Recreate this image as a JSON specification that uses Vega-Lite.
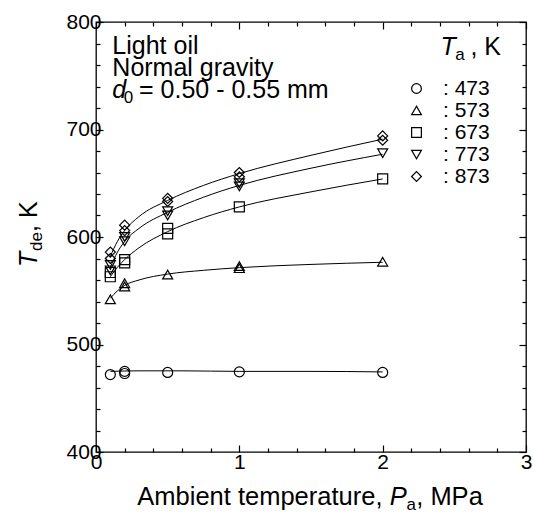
{
  "$schema": "https://vega.github.io/schema/vega-lite/v6.json",
  "width": 430,
  "height": 430,
  "autosize": {"type": "none"},
  "padding": {"left": 96, "top": 22, "right": 8, "bottom": 61},
  "background": "white",
  "config": {
    "view": {"stroke": "black", "strokeWidth": 1.3},
    "font": "Liberation Sans",
    "axis": {"grid": false, "domain": false, "tickColor": "black", "tickWidth": 1.2, "labelColor": "black", "labelFont": "Liberation Sans", "labelFontSize": 21, "title": null}
  },
  "data": {"values": [{}]},
  "datasets": {
    "points": [
      {"P": 0.1, "T": 472, "Ta": "473"}, {"P": 0.2, "T": 473, "Ta": "473"}, {"P": 0.2, "T": 475, "Ta": "473"}, {"P": 0.5, "T": 474, "Ta": "473"}, {"P": 1.0, "T": 474.5, "Ta": "473"}, {"P": 2.0, "T": 474, "Ta": "473"},
      {"P": 0.1, "T": 542, "Ta": "573"}, {"P": 0.2, "T": 554, "Ta": "573"}, {"P": 0.2, "T": 557, "Ta": "573"}, {"P": 0.5, "T": 565, "Ta": "573"}, {"P": 1.0, "T": 571, "Ta": "573"}, {"P": 1.0, "T": 573, "Ta": "573"}, {"P": 2.0, "T": 577, "Ta": "573"},
      {"P": 0.1, "T": 563, "Ta": "673"}, {"P": 0.1, "T": 567, "Ta": "673"}, {"P": 0.2, "T": 576, "Ta": "673"}, {"P": 0.2, "T": 579, "Ta": "673"}, {"P": 0.5, "T": 603, "Ta": "673"}, {"P": 0.5, "T": 608, "Ta": "673"}, {"P": 1.0, "T": 628, "Ta": "673"}, {"P": 2.0, "T": 654, "Ta": "673"},
      {"P": 0.1, "T": 569, "Ta": "773"}, {"P": 0.1, "T": 574, "Ta": "773"}, {"P": 0.2, "T": 596, "Ta": "773"}, {"P": 0.2, "T": 600, "Ta": "773"}, {"P": 0.5, "T": 620, "Ta": "773"}, {"P": 0.5, "T": 624, "Ta": "773"}, {"P": 1.0, "T": 647, "Ta": "773"}, {"P": 1.0, "T": 650, "Ta": "773"}, {"P": 2.0, "T": 678, "Ta": "773"},
      {"P": 0.1, "T": 580, "Ta": "873"}, {"P": 0.1, "T": 586, "Ta": "873"}, {"P": 0.2, "T": 606, "Ta": "873"}, {"P": 0.2, "T": 611, "Ta": "873"}, {"P": 0.5, "T": 633, "Ta": "873"}, {"P": 0.5, "T": 636, "Ta": "873"}, {"P": 1.0, "T": 656, "Ta": "873"}, {"P": 1.0, "T": 660, "Ta": "873"}, {"P": 2.0, "T": 690, "Ta": "873"}, {"P": 2.0, "T": 694, "Ta": "873"}
    ],
    "curves": [
      {"P": 0.1, "T": 475, "Ta": "473"}, {"P": 0.3, "T": 475.5, "Ta": "473"}, {"P": 0.6, "T": 475.5, "Ta": "473"}, {"P": 1.0, "T": 475, "Ta": "473"}, {"P": 1.5, "T": 475, "Ta": "473"}, {"P": 2.0, "T": 474.5, "Ta": "473"},
      {"P": 0.1, "T": 543, "Ta": "573"}, {"P": 0.15, "T": 550, "Ta": "573"}, {"P": 0.2, "T": 555, "Ta": "573"}, {"P": 0.3, "T": 560, "Ta": "573"}, {"P": 0.5, "T": 565.5, "Ta": "573"}, {"P": 0.75, "T": 569, "Ta": "573"}, {"P": 1.0, "T": 571.5, "Ta": "573"}, {"P": 1.5, "T": 574.5, "Ta": "573"}, {"P": 2.0, "T": 576.5, "Ta": "573"},
      {"P": 0.1, "T": 563, "Ta": "673"}, {"P": 0.15, "T": 572, "Ta": "673"}, {"P": 0.2, "T": 579, "Ta": "673"}, {"P": 0.3, "T": 590, "Ta": "673"}, {"P": 0.5, "T": 605, "Ta": "673"}, {"P": 0.75, "T": 618, "Ta": "673"}, {"P": 1.0, "T": 628, "Ta": "673"}, {"P": 1.5, "T": 642, "Ta": "673"}, {"P": 2.0, "T": 654, "Ta": "673"},
      {"P": 0.1, "T": 572, "Ta": "773"}, {"P": 0.15, "T": 586, "Ta": "773"}, {"P": 0.2, "T": 596, "Ta": "773"}, {"P": 0.3, "T": 608, "Ta": "773"}, {"P": 0.5, "T": 623, "Ta": "773"}, {"P": 0.75, "T": 637, "Ta": "773"}, {"P": 1.0, "T": 648, "Ta": "773"}, {"P": 1.5, "T": 664, "Ta": "773"}, {"P": 2.0, "T": 677, "Ta": "773"},
      {"P": 0.1, "T": 582, "Ta": "873"}, {"P": 0.15, "T": 596, "Ta": "873"}, {"P": 0.2, "T": 606, "Ta": "873"}, {"P": 0.3, "T": 619, "Ta": "873"}, {"P": 0.5, "T": 634, "Ta": "873"}, {"P": 0.75, "T": 648, "Ta": "873"}, {"P": 1.0, "T": 659, "Ta": "873"}, {"P": 1.5, "T": 676, "Ta": "873"}, {"P": 2.0, "T": 691, "Ta": "873"}
    ]
  },
  "layer": [
    {
      "data": {"name": "curves"},
      "mark": {"type": "line", "color": "black", "strokeWidth": 1, "interpolate": "monotone"},
      "encoding": {
        "x": {"field": "P", "type": "quantitative", "scale": {"domain": [0, 3]}, "axis": {"orient": "bottom", "values": [0, 1, 2, 3], "tickSize": -7, "labelPadding": 6, "labelFlush": false}},
        "y": {"field": "T", "type": "quantitative", "scale": {"domain": [400, 800]}, "axis": {"orient": "left", "values": [400, 500, 600, 700, 800], "tickSize": -7, "labelPadding": 2}},
        "detail": {"field": "Ta", "type": "nominal"}
      }
    },
    {
      "data": {"name": "points"},
      "mark": {"type": "point", "filled": false, "color": "black", "strokeWidth": 1.2, "size": 100, "opacity": 1},
      "encoding": {
        "x": {"field": "P", "type": "quantitative", "scale": {"domain": [0, 3]}, "axis": {"orient": "bottom", "values": [0.2, 0.4, 0.6, 0.8, 1.2, 1.4, 1.6, 1.8, 2.2, 2.4, 2.6, 2.8], "tickSize": -4, "labels": false}},
        "y": {"field": "T", "type": "quantitative", "scale": {"domain": [400, 800]}, "axis": {"orient": "left", "values": [420, 440, 460, 480, 520, 540, 560, 580, 620, 640, 660, 680, 720, 740, 760, 780], "tickSize": -4, "labels": false}},
        "shape": {
          "field": "Ta", "type": "nominal",
          "scale": {"domain": ["473", "573", "673", "773", "873"], "range": ["circle", "triangle-up", "square", "triangle-down", "diamond"]},
          "legend": {"orient": "none", "legendX": 310, "legendY": 56, "title": null, "padding": 0, "labelExpr": "': ' + datum.label", "labelFontSize": 21, "labelFont": "Liberation Sans", "labelColor": "black", "symbolSize": 95, "symbolStrokeWidth": 1.2, "symbolStrokeColor": "black", "symbolFillColor": "transparent", "labelOffset": 16, "rowPadding": 0}
        }
      }
    },
    {
      "data": {"name": "points"},
      "mark": {"type": "point", "opacity": 0},
      "encoding": {
        "x": {"field": "P", "type": "quantitative", "scale": {"domain": [0, 3]}, "axis": {"orient": "top", "values": [0, 1, 2, 3], "tickSize": -7, "labels": false}},
        "y": {"field": "T", "type": "quantitative", "scale": {"domain": [400, 800]}, "axis": {"orient": "right", "values": [400, 500, 600, 700, 800], "tickSize": -7, "labels": false}}
      }
    },
    {
      "data": {"name": "points"},
      "mark": {"type": "point", "opacity": 0},
      "encoding": {
        "x": {"field": "P", "type": "quantitative", "scale": {"domain": [0, 3]}, "axis": {"orient": "top", "values": [0.2, 0.4, 0.6, 0.8, 1.2, 1.4, 1.6, 1.8, 2.2, 2.4, 2.6, 2.8], "tickSize": -4, "labels": false}},
        "y": {"field": "T", "type": "quantitative", "scale": {"domain": [400, 800]}, "axis": {"orient": "right", "values": [420, 440, 460, 480, 520, 540, 560, 580, 620, 640, 660, 680, 720, 740, 760, 780], "tickSize": -4, "labels": false}}
      }
    },
    {
      "mark": {"type": "text", "text": "Light oil", "align": "left", "baseline": "alphabetic", "fontSize": 25, "font": "Liberation Sans", "color": "black"},
      "encoding": {"x": {"datum": 0.114, "type": "quantitative", "scale": {"domain": [0, 3]}, "axis": null}, "y": {"datum": 770.2, "type": "quantitative", "scale": {"domain": [400, 800]}, "axis": null}}
    },
    {
      "mark": {"type": "text", "text": "Normal gravity", "align": "left", "baseline": "alphabetic", "fontSize": 25, "font": "Liberation Sans", "color": "black"},
      "encoding": {"x": {"datum": 0.114, "type": "quantitative", "scale": {"domain": [0, 3]}, "axis": null}, "y": {"datum": 749.8, "type": "quantitative", "scale": {"domain": [400, 800]}, "axis": null}}
    },
    {
      "mark": {"type": "text", "text": "d", "align": "left", "baseline": "alphabetic", "fontSize": 25, "fontStyle": "italic", "font": "Liberation Sans", "color": "black"},
      "encoding": {"x": {"datum": 0.114, "type": "quantitative", "scale": {"domain": [0, 3]}, "axis": null}, "y": {"datum": 729.3, "type": "quantitative", "scale": {"domain": [400, 800]}, "axis": null}}
    },
    {
      "mark": {"type": "text", "text": "0", "align": "left", "baseline": "alphabetic", "fontSize": 17, "font": "Liberation Sans", "color": "black"},
      "encoding": {"x": {"datum": 0.194, "type": "quantitative", "scale": {"domain": [0, 3]}, "axis": null}, "y": {"datum": 724.6, "type": "quantitative", "scale": {"domain": [400, 800]}, "axis": null}}
    },
    {
      "mark": {"type": "text", "text": "= 0.50 - 0.55 mm", "align": "left", "baseline": "alphabetic", "fontSize": 25, "font": "Liberation Sans", "color": "black"},
      "encoding": {"x": {"datum": 0.3, "type": "quantitative", "scale": {"domain": [0, 3]}, "axis": null}, "y": {"datum": 729.3, "type": "quantitative", "scale": {"domain": [400, 800]}, "axis": null}}
    },
    {
      "mark": {"type": "text", "text": "T", "align": "left", "baseline": "alphabetic", "fontSize": 25, "fontStyle": "italic", "font": "Liberation Sans", "color": "black"},
      "encoding": {"x": {"datum": 2.403, "type": "quantitative", "scale": {"domain": [0, 3]}, "axis": null}, "y": {"datum": 769.3, "type": "quantitative", "scale": {"domain": [400, 800]}, "axis": null}}
    },
    {
      "mark": {"type": "text", "text": "a", "align": "left", "baseline": "alphabetic", "fontSize": 17, "font": "Liberation Sans", "color": "black"},
      "encoding": {"x": {"datum": 2.507, "type": "quantitative", "scale": {"domain": [0, 3]}, "axis": null}, "y": {"datum": 764.7, "type": "quantitative", "scale": {"domain": [400, 800]}, "axis": null}}
    },
    {
      "mark": {"type": "text", "text": ", K", "align": "left", "baseline": "alphabetic", "fontSize": 25, "font": "Liberation Sans", "color": "black"},
      "encoding": {"x": {"datum": 2.612, "type": "quantitative", "scale": {"domain": [0, 3]}, "axis": null}, "y": {"datum": 769.3, "type": "quantitative", "scale": {"domain": [400, 800]}, "axis": null}}
    },
    {
      "mark": {"type": "text", "text": "Ambient temperature,", "align": "left", "baseline": "alphabetic", "fontSize": 25.5, "font": "Liberation Sans", "color": "black"},
      "encoding": {"x": {"datum": 0.288, "type": "quantitative", "scale": {"domain": [0, 3]}, "axis": null}, "y": {"datum": 350.7, "type": "quantitative", "scale": {"domain": [400, 800]}, "axis": null}}
    },
    {
      "mark": {"type": "text", "text": "P", "align": "left", "baseline": "alphabetic", "fontSize": 25.5, "fontStyle": "italic", "font": "Liberation Sans", "color": "black"},
      "encoding": {"x": {"datum": 2.049, "type": "quantitative", "scale": {"domain": [0, 3]}, "axis": null}, "y": {"datum": 350.7, "type": "quantitative", "scale": {"domain": [400, 800]}, "axis": null}}
    },
    {
      "mark": {"type": "text", "text": "a", "align": "left", "baseline": "alphabetic", "fontSize": 17, "font": "Liberation Sans", "color": "black"},
      "encoding": {"x": {"datum": 2.167, "type": "quantitative", "scale": {"domain": [0, 3]}, "axis": null}, "y": {"datum": 346.2, "type": "quantitative", "scale": {"domain": [400, 800]}, "axis": null}}
    },
    {
      "mark": {"type": "text", "text": ", MPa", "align": "left", "baseline": "alphabetic", "fontSize": 25.5, "font": "Liberation Sans", "color": "black"},
      "encoding": {"x": {"datum": 2.234, "type": "quantitative", "scale": {"domain": [0, 3]}, "axis": null}, "y": {"datum": 350.7, "type": "quantitative", "scale": {"domain": [400, 800]}, "axis": null}}
    },
    {
      "mark": {"type": "text", "text": "T", "align": "left", "baseline": "alphabetic", "fontSize": 25, "fontStyle": "italic", "font": "Liberation Sans", "color": "black"},
      "encoding": {"x": {"datum": -0.41, "type": "quantitative", "scale": {"domain": [0, 3]}, "axis": null}, "y": {"datum": 572.1, "type": "quantitative", "scale": {"domain": [400, 800]}, "axis": null}, "angle": {"value": 270}}
    },
    {
      "mark": {"type": "text", "text": "de", "align": "left", "baseline": "alphabetic", "fontSize": 17, "font": "Liberation Sans", "color": "black"},
      "encoding": {"x": {"datum": -0.375, "type": "quantitative", "scale": {"domain": [0, 3]}, "axis": null}, "y": {"datum": 587, "type": "quantitative", "scale": {"domain": [400, 800]}, "axis": null}, "angle": {"value": 270}}
    },
    {
      "mark": {"type": "text", "text": ", K", "align": "left", "baseline": "alphabetic", "fontSize": 25, "font": "Liberation Sans", "color": "black"},
      "encoding": {"x": {"datum": -0.41, "type": "quantitative", "scale": {"domain": [0, 3]}, "axis": null}, "y": {"datum": 604.7, "type": "quantitative", "scale": {"domain": [400, 800]}, "axis": null}, "angle": {"value": 270}}
    }
  ],
  "resolve": {"axis": {"x": "independent", "y": "independent"}}
}
